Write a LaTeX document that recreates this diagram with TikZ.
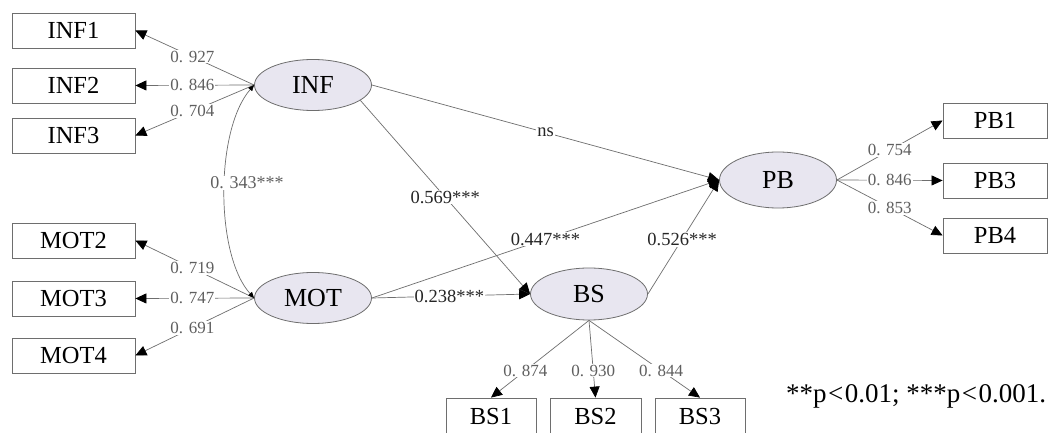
\documentclass[tikz,border=0pt]{standalone}
\usepackage{fontspec}
\setmainfont{Liberation Serif}
\usetikzlibrary{arrows.meta,shapes.geometric}
\definecolor{ellfill}{RGB}{232,230,240}
\definecolor{linegray}{RGB}{110,110,110}
\definecolor{labgray}{RGB}{95,95,95}
\tikzset{
 box/.style={draw=linegray, line width=0.8bp, fill=white, minimum width=123bp, minimum height=35bp, inner sep=0pt, font=\fontsize{24.5bp}{27bp}\selectfont},
 latent/.style={ellipse, draw=linegray, line width=0.8bp, fill=ellfill, minimum width=117bp, minimum height=51bp, inner sep=0pt, font=\fontsize{26bp}{30bp}\selectfont},
 ln/.style={draw=linegray, line width=0.7bp, -{Triangle[length=11bp,width=10bp,color=black]}},
 cor/.style={draw=linegray, line width=0.7bp, {Triangle[length=6bp,width=5bp,color=black]}-{Triangle[length=6bp,width=5bp,color=black]}},
 ld/.style={fill=white, inner sep=1bp, text=labgray, font=\fontsize{17bp}{19bp}\selectfont},
 pl/.style={fill=white, inner sep=1bp, text=black!85, font=\fontsize{18.5bp}{21bp}\selectfont},
}
\begin{document}
\begin{tikzpicture}[x=1bp,y=-1bp]
\clip (0,0) rectangle (1049,433);
\fill[white] (0,0) rectangle (1049,433);
% indicator boxes
\node[box] (INF1) at (73.5,30.5) {INF1};
\node[box] (INF2) at (73.5,85.5) {INF2};
\node[box] (INF3) at (73.5,135.5) {INF3};
\node[box] (MOT2) at (73.5,240.5) {MOT2};
\node[box] (MOT3) at (73.5,298.5) {MOT3};
\node[box] (MOT4) at (73.5,355.5) {MOT4};
\node[box,minimum width=104bp] (PB1) at (995,120.5) {PB1};
\node[box,minimum width=104bp] (PB3) at (995,180.5) {PB3};
\node[box,minimum width=104bp] (PB4) at (995,235.5) {PB4};
\node[box,minimum width=90bp,minimum height=37bp] (BS1) at (491,416.5) {BS1};
\node[box,minimum width=91bp,minimum height=37bp] (BS2) at (595.5,416.5) {BS2};
\node[box,minimum width=90bp,minimum height=37bp] (BS3) at (700,416.5) {BS3};
% latent variables
\node[latent] (INF) at (313,85) {INF};
\node[latent] (MOT) at (313,298) {MOT};
\node[latent,minimum height=52bp] (BS) at (589,294) {BS};
\node[latent,minimum height=56bp] (PB) at (778,180) {PB};
% measurement paths
\draw[ln] (INF.west) -- node[ld,pos=0.52]{0. 927} (INF1.east);
\draw[ln] (INF.west) -- node[ld,pos=0.52]{0. 846} (INF2.east);
\draw[ln] (INF.west) -- node[ld,pos=0.52]{0. 704} (INF3.east);
\draw[ln] (MOT.west) -- node[ld,pos=0.52]{0. 719} (MOT2.east);
\draw[ln] (MOT.west) -- node[ld,pos=0.52]{0. 747} (MOT3.east);
\draw[ln] (MOT.west) -- node[ld,pos=0.52]{0. 691} (MOT4.east);
\draw[ln] (PB.east) -- node[ld,pos=0.5]{0. 754} (PB1.west);
\draw[ln] (PB.east) -- node[ld,pos=0.5]{0. 846} (PB3.west);
\draw[ln] (PB.east) -- node[ld,pos=0.5]{0. 853} (PB4.west);
\draw[ln] (BS.south) -- node[ld,pos=0.65]{0. 874} (BS1.north);
\draw[ln] (BS.south) -- node[ld,pos=0.65]{0. 930} (BS2.north);
\draw[ln] (BS.south) -- node[ld,pos=0.65]{0. 844} (BS3.north);
% structural paths
\draw[ln] (INF.east) -- node[pl,pos=0.5]{ns} (PB.west);
\draw[ln] (INF.-18) -- node[pl,pos=0.5]{0.569***} (BS.west);
\draw[ln] (MOT.east) -- node[pl,pos=0.5]{0.447***} (PB.west);
\draw[ln] (MOT.east) -- node[pl,pos=0.49]{0.238***} (BS.west);
\draw[ln] (BS.east) -- node[pl,pos=0.48]{0.526***} (PB.west);
% correlation
\draw[cor] (INF.west) .. controls (215,130) and (215,255) .. (MOT.west);
\node[ld,font=\fontsize{18bp}{20bp}\selectfont] (r) at (247,183) {0. 343***};
% note
\node[anchor=base west,inner sep=0pt,font=\fontsize{27bp}{30bp}\selectfont] (note) at (786,403) {**p\kern1.5bp<\kern1.5bp0.01; ***p\kern1.5bp<\kern1.5bp0.001.};
\end{tikzpicture}
\end{document}
